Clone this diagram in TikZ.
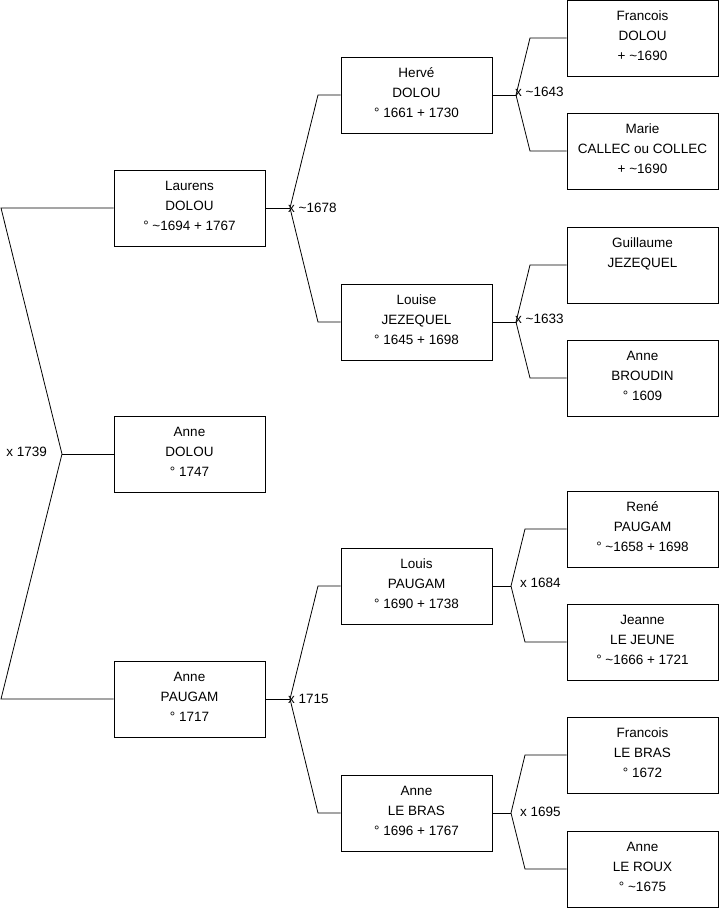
\documentclass[tikz,border=0pt]{standalone}
\usepackage{fontspec}
\setmainfont{Liberation Sans}
\newcommand{\tl}{\textasciitilde}
\tikzset{
  person/.style={draw=black, line width=0.9pt, minimum width=151pt, minimum height=76pt, inner sep=0pt},
  ptext/.style={anchor=north, align=center, inner sep=0pt, font=\fontsize{13.5}{20}\selectfont},
  lbl/.style={inner sep=0pt, font=\fontsize{13.5}{15}\selectfont},
  link/.style={draw=black, line width=0.8pt}
}
\newcommand{\person}[3]{%
  \node[person] (#1) at (#2) {};
  \node[ptext] (#1t) at ([yshift=-6.5pt]#1.north) {\strut #3};
}
\begin{document}
\begin{tikzpicture}[x=1pt,y=-1pt]
\useasboundingbox (0,0) rectangle (719,908);
% column 1
\person{laurens}{189.5,208}{Laurens\\DOLOU\\° \tl1694 + 1767}
\person{anned}{189.5,454}{Anne\\DOLOU\\° 1747}
\person{annep}{189.5,699}{Anne\\PAUGAM\\° 1717}
% column 2
\person{herve}{416.5,95}{Hervé\\DOLOU\\° 1661 + 1730}
\person{louise}{416.5,322}{Louise\\JEZEQUEL\\° 1645 + 1698}
\person{louis}{416.5,586}{Louis\\PAUGAM\\° 1690 + 1738}
\person{annelb}{416.5,813}{Anne\\LE BRAS\\° 1696 + 1767}
% column 3
\person{francois}{642.5,38}{Francois\\DOLOU\\+ \tl1690}
\person{marie}{642.5,151}{Marie\\CALLEC ou COLLEC\\+ \tl1690}
\person{guillaume}{642.5,265}{Guillaume\\JEZEQUEL}
\person{anneb}{642.5,378}{Anne\\BROUDIN\\° 1609}
\person{rene}{642.5,529}{René\\PAUGAM\\° \tl1658 + 1698}
\person{jeanne}{642.5,642}{Jeanne\\LE JEUNE\\° \tl1666 + 1721}
\person{francoislb}{642.5,755}{Francois\\LE BRAS\\° 1672}
\person{annelr}{642.5,869}{Anne\\LE ROUX\\° \tl1675}

% branch points and bends
\coordinate (b0) at (62,454);
\coordinate (b0u) at (1,208);
\coordinate (b0d) at (1,699);
\coordinate (b1) at (290,208);
\coordinate (b1u) at (318,95);
\coordinate (b1d) at (318,322);
\coordinate (b2) at (290,699);
\coordinate (b2u) at (318,586);
\coordinate (b2d) at (318,813);
\coordinate (b3) at (516,95);
\coordinate (b3u) at (530,38);
\coordinate (b3d) at (530,151);
\coordinate (b4) at (516,322);
\coordinate (b4u) at (530,265);
\coordinate (b4d) at (530,378);
\coordinate (b5) at (511,586);
\coordinate (b5u) at (525,529);
\coordinate (b5d) at (525,642);
\coordinate (b6) at (511,813);
\coordinate (b6u) at (525,755);
\coordinate (b6d) at (525,869);

% connectors
\draw[link] (laurens.west) -- (b0u) -- (b0) -- (b0d) -- (annep.west);
\draw[link] (b0) -- (anned.west);
\draw[link] (laurens.east) -- (b1);
\draw[link] (herve.west) -- (b1u) -- (b1) -- (b1d) -- (louise.west);
\draw[link] (annep.east) -- (b2);
\draw[link] (louis.west) -- (b2u) -- (b2) -- (b2d) -- (annelb.west);
\draw[link] (herve.east) -- (b3);
\draw[link] (francois.west) -- (b3u) -- (b3) -- (b3d) -- (marie.west);
\draw[link] (louise.east) -- (b4);
\draw[link] (guillaume.west) -- (b4u) -- (b4) -- (b4d) -- (anneb.west);
\draw[link] (louis.east) -- (b5);
\draw[link] (rene.west) -- (b5u) -- (b5) -- (b5d) -- (jeanne.west);
\draw[link] (annelb.east) -- (b6);
\draw[link] (francoislb.west) -- (b6u) -- (b6) -- (b6d) -- (annelr.west);

% marriage labels
\node[lbl, anchor=east] (l0) at ([xshift=-15pt,yshift=2pt]b0) {x 1739};
\node[lbl, anchor=west] (l1) at ([xshift=-2pt]b1) {x \tl1678};
\node[lbl, anchor=west] (l2) at ([xshift=-2pt]b2) {x 1715};
\node[lbl, anchor=west] (l3) at ([xshift=-1pt,yshift=3pt]b3) {x \tl1643};
\node[lbl, anchor=west] (l4) at ([xshift=-1pt,yshift=3pt]b4) {x \tl1633};
\node[lbl, anchor=west] (l5) at ([xshift=9pt,yshift=3pt]b5) {x 1684};
\node[lbl, anchor=west] (l6) at ([xshift=9pt,yshift=1pt]b6) {x 1695};
\end{tikzpicture}
\end{document}
